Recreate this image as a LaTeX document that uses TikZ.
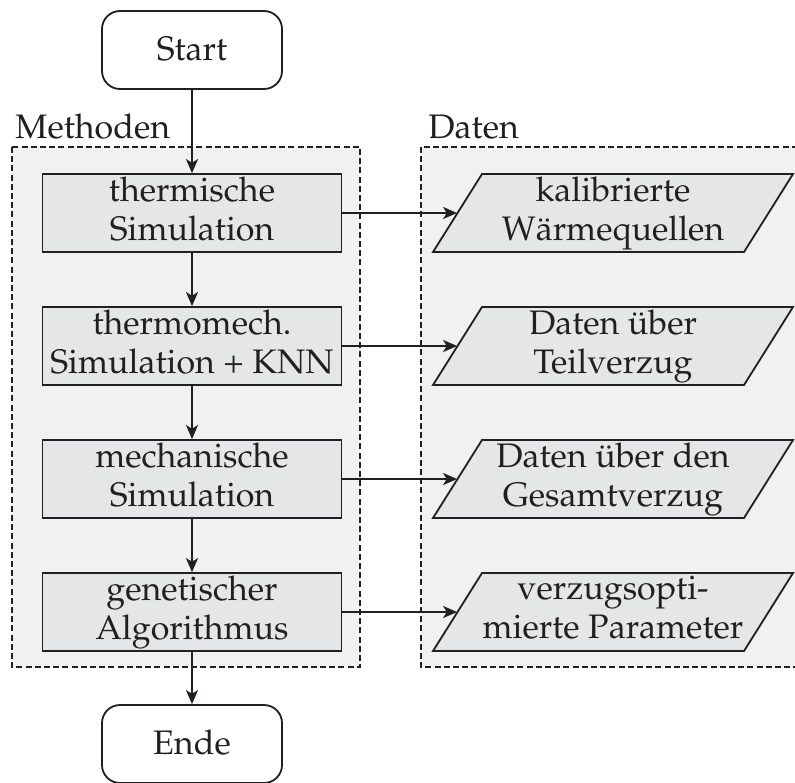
\documentclass[tikz,border=0pt]{standalone}
\usepackage[T1]{fontenc}
\usepackage{mathpazo}
\usetikzlibrary{arrows.meta}
\definecolor{ink}{HTML}{231F20}
\definecolor{boxfill}{HTML}{E5E6E8}
\definecolor{regionfill}{HTML}{F1F1F1}
\tikzset{
  base/.style={font=\fontsize{17}{19.5}\selectfont, text=ink, align=center,
    inner sep=0pt,
    execute at begin node={\rule{0pt}{13pt}},
    execute at end node={\rule[-4.5pt]{0pt}{4.5pt}}},
  terminal/.style={base, draw=ink, line width=0.9pt, fill=white,
    rounded corners=9pt, minimum width=90pt, minimum height=39pt,
    execute at begin node={\rule{0pt}{14.5pt}}},
  process/.style={base, draw=ink, line width=0.9pt, fill=boxfill,
    minimum width=149.5pt, minimum height=39pt},
  dataslot/.style={base, minimum width=155.5pt, minimum height=39pt},
  databody/.style={draw=ink, line width=0.9pt, fill=boxfill},
  region/.style={draw=ink, line width=0.65pt, dash pattern=on 3pt off 1.6pt,
    fill=regionfill},
  grouplabel/.style={font=\fontsize{17}{19.5}\selectfont, text=ink,
    anchor=base west, inner sep=0pt},
  arr/.style={draw=ink, line width=0.9pt,
    -{Stealth[length=7pt, width=6pt, inset=1.8pt]}},
}
\begin{document}
\begin{tikzpicture}[x=0.5pt, y=-0.5pt]
  \useasboundingbox (0,0) rectangle (795,782);
  \clip (0,0) rectangle (795,782);

  % group frames
  \path[region] (12,147) rectangle (360,667);
  \path[region] (421,147) rectangle (830,667);
  \node[grouplabel] (lblM) at (15,138) {Methoden};
  \node[grouplabel] (lblD) at (428,138) {Daten};

  % terminals
  \node[terminal] (start) at (192,50) {Start};
  \node[terminal] (ende) at (192,744) {Ende};

  % processing steps
  \node[process] (m1) at (192,213) {thermische\\Simulation};
  \node[process] (m2) at (192,346) {thermomech.\\Simulation + KNN};
  \node[process] (m3) at (192,479) {mechanische\\Simulation};
  \node[process] (m4) at (192,612) {genetischer\\Algorithmus};

  % data slots (parallelogram outline drawn around each slot)
  \foreach \yy in {213, 346, 479, 612}{
    \path[databody]
      (613-155.5-24.5, \yy+39) -- (613-155.5+24.5, \yy-39)
      -- (613+155.5+24.5, \yy-39) -- (613+155.5-24.5, \yy+39) -- cycle;
  }
  \node[dataslot] (d1) at (613,213) {kalibrierte\\W\"armequellen};
  \node[dataslot] (d2) at (613,346) {Daten \"uber\\Teilverzug};
  \node[dataslot] (d3) at (613,479) {Daten \"uber den\\Gesamtverzug};
  \node[dataslot] (d4) at (613,612) {verzugsopti-\\mierte Parameter};

  % flow
  \draw[arr] (start) -- (m1);
  \draw[arr] (m1) -- (m2);
  \draw[arr] (m2) -- (m3);
  \draw[arr] (m3) -- (m4);
  \draw[arr] (m4) -- (ende);

  % outputs
  \draw[arr] (m1.east) -- (d1.west);
  \draw[arr] (m2.east) -- (d2.west);
  \draw[arr] (m3.east) -- (d3.west);
  \draw[arr] (m4.east) -- (d4.west);
\end{tikzpicture}
\end{document}
